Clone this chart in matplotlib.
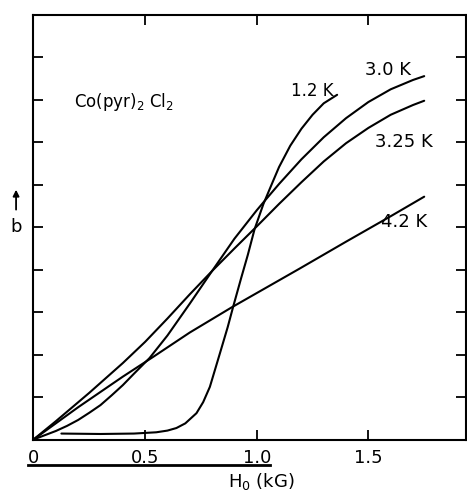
import matplotlib
matplotlib.use("Agg")
import matplotlib.pyplot as plt

# field H0 (kG) and b (arbitrary units)
h_12 = [0.125, 0.30, 0.45, 0.55, 0.60, 0.64, 0.68, 0.73, 0.76, 0.79, 0.835, 0.87,
        0.895, 0.93, 0.96, 0.99, 1.03, 1.07, 1.10, 1.15, 1.20, 1.25, 1.30, 1.36]
b_12 = [0.14, 0.13, 0.14, 0.17, 0.21, 0.27, 0.38, 0.62, 0.88, 1.24, 2.03, 2.65,
        3.14, 3.80, 4.35, 4.95, 5.55, 6.05, 6.42, 6.92, 7.32, 7.65, 7.92, 8.12]

h_30 = [0.0, 0.10, 0.15, 0.20, 0.25, 0.30, 0.35, 0.40, 0.45, 0.52, 0.60, 0.70,
        0.80, 0.90, 1.00, 1.04, 1.10, 1.20, 1.30, 1.40, 1.50, 1.60, 1.70, 1.75]
b_30 = [0.0, 0.20, 0.32, 0.46, 0.63, 0.81, 1.04, 1.28, 1.55, 1.92, 2.45, 3.20,
        3.97, 4.73, 5.40, 5.65, 6.02, 6.60, 7.12, 7.57, 7.95, 8.25, 8.47, 8.56]

h_325 = [0.0, 0.10, 0.25, 0.40, 0.50, 0.60, 0.70, 0.80, 0.90, 1.00, 1.10, 1.20,
         1.30, 1.40, 1.50, 1.60, 1.70, 1.75]
b_325 = [0.0, 0.43, 1.10, 1.80, 2.30, 2.85, 3.42, 3.97, 4.50, 5.02, 5.55, 6.06,
         6.55, 6.98, 7.34, 7.65, 7.88, 7.98]

h_42 = [0.0, 0.20, 0.40, 0.54, 0.70, 0.89, 1.00, 1.19, 1.40, 1.60, 1.75]
b_42 = [0.0, 0.76, 1.48, 1.96, 2.52, 3.12, 3.45, 4.02, 4.66, 5.26, 5.72]

x_ticks = [0, 0.5, 1.0, 1.5]
x_tick_labels = ["0", "0.5", "1.0", "1.5"]
y_ticks = [1, 2, 3, 4, 5, 6, 7, 8, 9]

fig = plt.figure(figsize=(4.67, 4.92), dpi=100)
ax = fig.add_axes([0.0717, 0.1067, 0.9968 - 0.0717, 0.9695 - 0.1067])

for h, b in [(h_12, b_12), (h_30, b_30), (h_325, b_325), (h_42, b_42)]:
    ax.plot(h, b, color="black", lw=1.5, solid_capstyle="round",
            solid_joinstyle="round")

ax.set_xlim(0, 1.935)
ax.set_ylim(0, 10)

ax.set_xticks(x_ticks)
ax.set_xticklabels(x_tick_labels, fontsize=13)
ax.set_yticks(y_ticks)
ax.set_yticklabels([])
ax.tick_params(direction="in", length=7, width=1.3, top=True, right=True, pad=7)
for s in ax.spines.values():
    s.set_linewidth(1.5)

# curve labels
ax.text(0.18, 7.95, r"Co(pyr)$_2$ Cl$_2$", fontsize=12, va="center", ha="left")
ax.text(1.25, 8.2, "1.2 K", fontsize=12, va="center", ha="center")
ax.text(1.59, 8.7, "3.0 K", fontsize=13, va="center", ha="center")
ax.text(1.66, 7.02, "3.25 K", fontsize=13, va="center", ha="center")
ax.text(1.66, 5.12, "4.2 K", fontsize=13, va="center", ha="center")

# y axis: b with up arrow
ax.annotate("", xy=(-0.078, 5.95), xytext=(-0.078, 5.35),
            arrowprops=dict(arrowstyle="-|>", color="black", lw=1.3,
                            mutation_scale=9),
            annotation_clip=False)
ax.text(-0.078, 5.0, "b", fontsize=13, ha="center", va="center", clip_on=False)

# x axis label with the rule above it
ax.plot([-0.025, 1.06], [-0.6, -0.6], color="black", lw=2, clip_on=False)
ax.text(1.02, -1.0, r"H$_0$ (kG)", fontsize=13, ha="center", va="center",
        clip_on=False)

fig.savefig("out.png", dpi=100)
